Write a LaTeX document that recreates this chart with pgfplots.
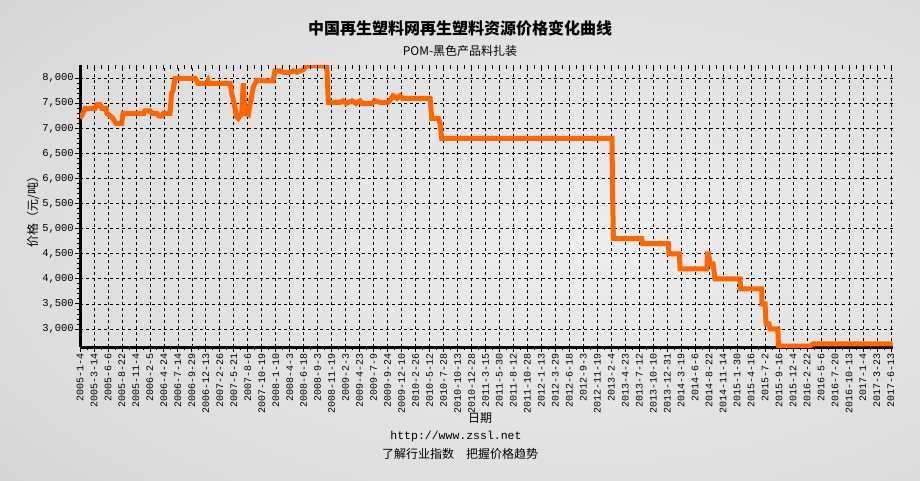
\documentclass[border=0pt]{standalone}
\usepackage{fontspec}
\setmainfont{Liberation Sans}
\newfontfamily\cjk{Noto Sans CJK SC}
\newfontfamily\mono{Liberation Mono}
\usepackage{pgfplots}
\pgfplotsset{compat=1.18}
\definecolor{lineorange}{HTML}{FF6600}
\definecolor{bgA}{HTML}{EDEDED}
\definecolor{bgB}{HTML}{DDDDDD}
\definecolor{bgC}{HTML}{CBCBCB}
\pgfdeclareradialshading{bgshade}{\pgfpoint{8bp}{0bp}}{color(0bp)=(bgA); color(30bp)=(bgB); color(55bp)=(bgC); color(90bp)=(bgC)}
\begin{document}
\begin{tikzpicture}[x=1pt,y=1pt]
\useasboundingbox (0,0) rectangle (920,480);
\shade[shading=bgshade] (0,0) rectangle (920,480);
\begin{axis}[
  at={(80pt,133pt)}, anchor=south west, scale only axis,
  width=813pt, height=282pt,
  xmin=0, xmax=58.15, ymin=2640, ymax=8265,
  axis lines=left,
  axis line style={-, line width=3pt, black},
  xtick={0,...,58},
  xticklabels={2005-1-4,2005-3-14,2005-6-6,2005-8-22,2005-11-4,2006-2-5,2006-4-24,2006-7-14,2006-9-29,2006-12-13,2007-2-26,2007-5-21,2007-8-6,2007-10-19,2008-1-10,2008-4-3,2008-6-18,2008-9-3,2008-11-19,2009-2-3,2009-4-23,2009-7-9,2009-9-24,2009-12-10,2010-2-26,2010-5-12,2010-7-28,2010-10-13,2010-12-28,2011-3-15,2011-5-30,2011-8-12,2011-10-28,2012-1-13,2012-3-29,2012-6-18,2012-9-3,2012-11-19,2013-2-4,2013-4-23,2013-7-12,2013-10-10,2013-12-31,2014-3-19,2014-6-6,2014-8-22,2014-11-14,2015-1-30,2015-4-16,2015-7-2,2015-9-16,2015-12-4,2016-2-22,2016-5-6,2016-7-20,2016-10-13,2017-1-4,2017-3-23,2017-6-13},
  minor x tick num=1,
  ytick={3000,3500,...,8000},
  minor y tick num=4,
  tick align=outside,
  major tick length=5pt, minor tick length=3pt,
  tick style={black, line width=0.8pt},
  xticklabel style={font=\mono\fontsize{10}{10}\selectfont, rotate=90, anchor=east, inner sep=1pt},
  yticklabel style={font=\mono\fontsize{10.5}{10.5}\selectfont, inner sep=1pt},
  /pgf/number format/1000 sep={,},
  /pgf/number format/assume math mode=true,
  grid=major,
  major grid style={black, line width=0.7pt, dash pattern=on 3pt off 3pt},
]
\addplot[lineorange, line width=5pt, line join=miter] coordinates {
(0,7200) (0.21,7300) (0.36,7400) (1.07,7400) (1.22,7480) (1.43,7480) (1.57,7400)
(1.86,7400) (1.93,7300) (2.15,7250) (2.36,7200) (2.58,7100) (2.98,7100) (3.08,7300)
(4.58,7300) (4.65,7350) (5.01,7350) (5.15,7300) (5.51,7300) (5.62,7250) (5.87,7250)
(5.97,7300) (6.44,7300) (6.55,7700) (6.65,7750) (6.80,8000) (8.23,8000) (8.44,7900)
(9.08,7900) (9.16,7950) (9.23,7900) (10.73,7900) (10.85,7700) (10.94,7600) (11.09,7400)
(11.21,7230) (11.32,7200) (11.44,7250) (11.56,7300) (11.68,7900) (11.80,7300) (12.04,7270)
(12.16,7470) (12.40,7830) (12.64,7960) (13.23,7950) (13.81,7950) (13.95,8150) (14.31,8150)
(14.52,8120) (15.02,8120) (15.24,8150) (15.52,8120) (15.74,8150) (15.97,8170) (16.22,8250)
(17.65,8250) (17.76,7520) (18.60,7520) (18.81,7550) (19.03,7500) (19.46,7550) (19.74,7500)
(20.03,7550) (20.17,7500) (20.89,7500) (21.10,7550) (21.46,7520) (22.03,7520) (22.17,7560)
(22.39,7650) (22.68,7600) (22.89,7650) (23.10,7600) (25.04,7600) (25.16,7200) (25.63,7200)
(25.75,7100) (25.87,6800) (38.05,6800) (38.09,5800) (38.15,4800) (40.18,4800) (40.24,4700)
(42.08,4700) (42.13,4500) (42.87,4500) (42.92,4200) (44.83,4200) (44.89,4500) (44.96,4500)
(45.06,4300) (45.28,4300) (45.42,4000) (47.21,4000) (47.25,3800) (48.76,3800) (48.78,3500)
(49.00,3500) (49.07,3100) (49.28,3100) (49.36,3000) (49.91,3000) (49.96,2660) (52.22,2660)
(52.41,2700) (58.13,2700)
};
\end{axis}
\begin{axis}[
  at={(80pt,133pt)}, anchor=south west, scale only axis,
  width=813pt, height=282pt,
  xmin=0, xmax=58.15, ymin=2640, ymax=8265,
  axis x line*=top, axis y line=none,
  axis line style={draw=none},
  xtick={0,0.5,...,58}, xticklabel=\empty,
  tick align=inside, major tick length=4pt,
  tick style={black, line width=0.8pt},
]
\addplot[draw=none] coordinates {(0,3000)};
\end{axis}
\node[font=\cjk\bfseries\fontsize{16}{16}\selectfont] at (460,452) {中国再生塑料网再生塑料资源价格变化曲线};
\node[font=\cjk\fontsize{12}{12}\selectfont] at (460,429.5) {POM-黑色产品料扎装};
\node[font=\cjk\fontsize{12}{12}\selectfont, rotate=90] at (33,271) {价格（元/吨）};
\node[font=\cjk\fontsize{12}{12}\selectfont] at (480,62) {日期};
\node[font=\mono\fontsize{11.5}{12}\selectfont] at (456,43) {http://www.zssl.net};
\node[font=\cjk\fontsize{12}{12}\selectfont] at (460,26) {了解行业指数\quad 把握价格趋势};
\end{tikzpicture}
\end{document}
